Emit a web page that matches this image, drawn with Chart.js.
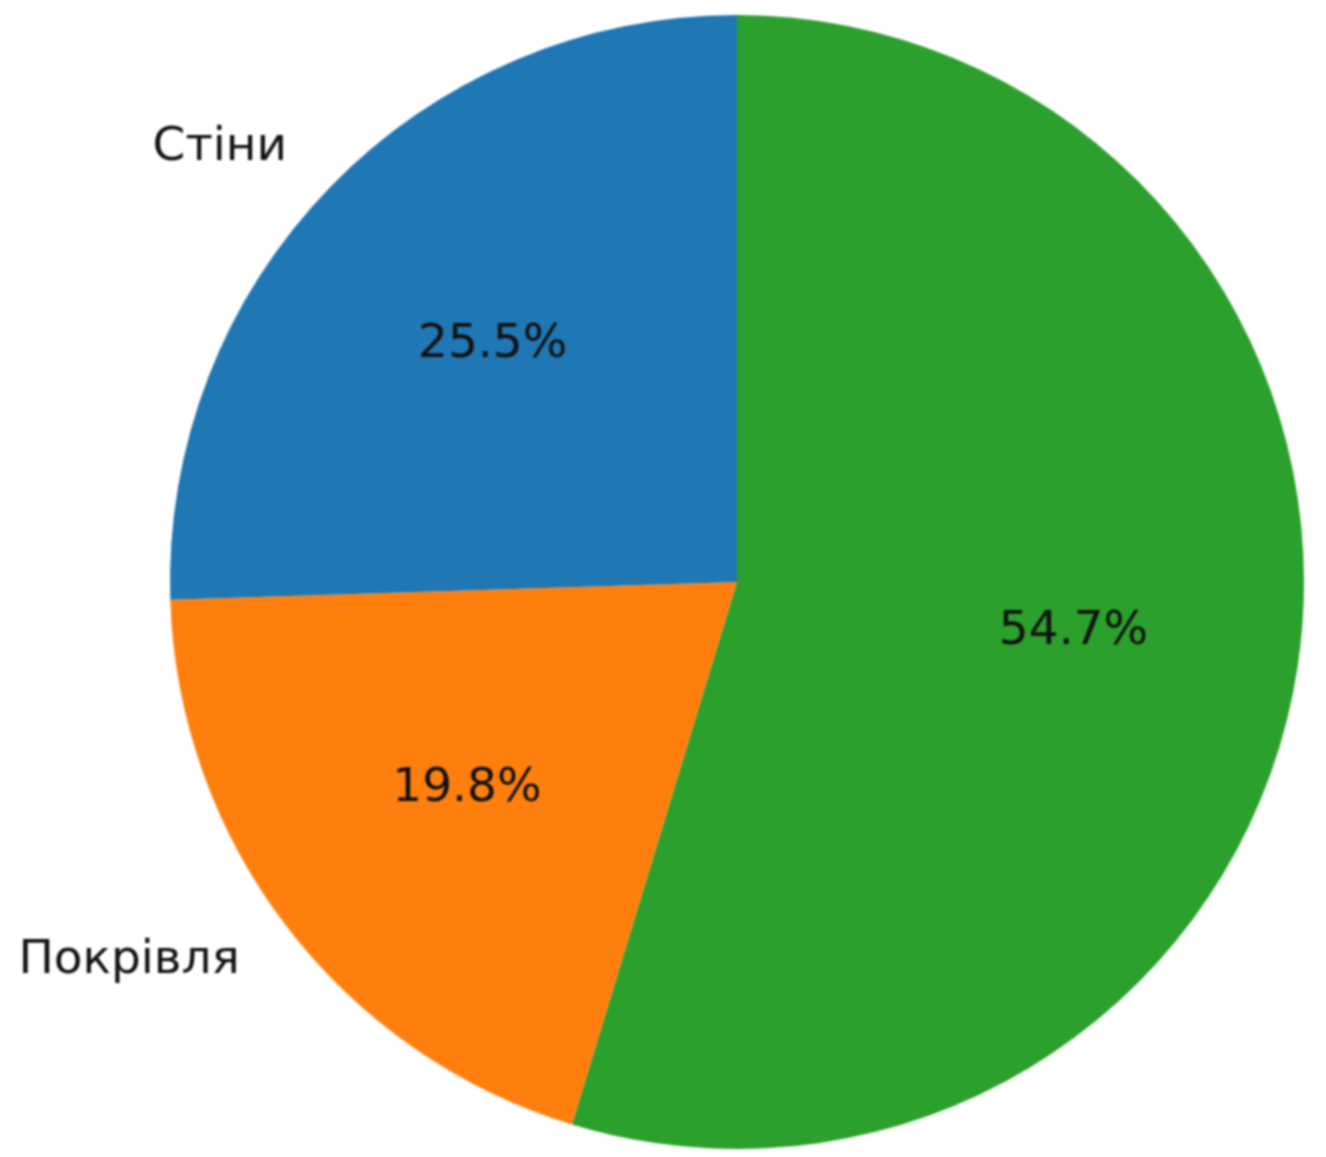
<!DOCTYPE html>
<html>
<head>
<meta charset="utf-8">
<script src="https://cdn.jsdelivr.net/npm/chart.js@4/dist/chart.umd.min.js"></script>
<style>
  html, body { margin: 0; padding: 0; background: #fff; }
  #wrap { width: 1326px; height: 1157px; }
  canvas { filter: blur(0.8px); }
</style>
</head>
<body>
<div id="wrap"><canvas id="chart" width="1326" height="1157"></canvas></div>
<script>
// Slices in clockwise order from 12 o'clock
const categories = ['', 'Покрівля', 'Стіни'];
const shares = [54.7, 19.8, 25.5];
const colors = ['#2ca02c', '#ff7f0e', '#1f77b4'];

// Draws the category names outside and the percentages inside each slice
const pieLabels = {
    id: 'pieLabels',
    afterDatasetsDraw(chart) {
        const ctx = chart.ctx;
        const meta = chart.getDatasetMeta(0);
        ctx.save();
        ctx.font = '47px "DejaVu Sans"';
        ctx.fillStyle = '#111';
        ctx.textBaseline = 'middle';
        meta.data.forEach((arc, i) => {
            const p = arc.getProps(['x', 'y', 'startAngle', 'endAngle', 'outerRadius'], true);
            const mid = (p.startAngle + p.endAngle) / 2;
            const cos = Math.cos(mid), sin = Math.sin(mid);

            ctx.textAlign = 'center';
            ctx.fillText(shares[i].toFixed(1) + '%', p.x + cos * p.outerRadius * 0.6, p.y + sin * p.outerRadius * 0.6);

            if (categories[i]) {
                ctx.textAlign = cos < 0 ? 'right' : 'left';
                ctx.fillText(categories[i], p.x + cos * p.outerRadius * 1.1 - 2, p.y + sin * p.outerRadius * 1.1);
            }
        });
        ctx.restore();
    }
};

new Chart(document.getElementById('chart').getContext('2d'), {
    type: 'pie',
    data: {
        labels: categories,
        datasets: [{
            data: shares,
            backgroundColor: colors,
            borderWidth: 0
        }]
    },
    options: {
        responsive: false,
        animation: false,
        layout: { padding: { left: 170, right: 22, top: 15, bottom: 8 } },
        plugins: {
            legend: { display: false },
            tooltip: { enabled: false }
        }
    },
    plugins: [pieLabels]
});
</script>
</body>
</html>
